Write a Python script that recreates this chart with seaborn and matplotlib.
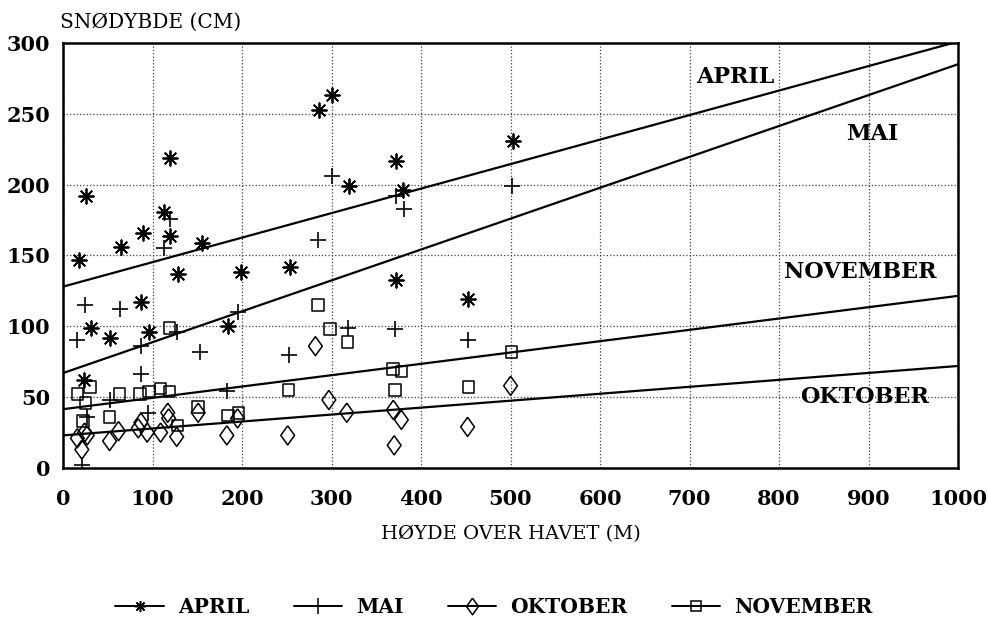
'''
Snødybde mot høyde over havet, april/mai/oktober/november
'''
import matplotlib
matplotlib.use('Agg')
import matplotlib.pyplot as plt
from matplotlib.lines import Line2D
import seaborn as sns

# Data
april_x = [18, 23, 26, 31, 53, 65, 87, 89, 96, 113, 119, 119, 128, 155, 184, 199,
           254, 286, 301, 319, 372, 372, 380, 453, 503]
april_y = [147, 62, 192, 99, 92, 156, 117, 166, 96, 181, 219, 164, 137, 159, 100, 138,
           142, 253, 263, 199, 217, 133, 196, 119, 231]

mai_x = [16, 21, 25, 27, 52, 64, 87, 87, 95, 113, 119, 127, 153, 183, 196,
         252, 285, 300, 318, 371, 372, 381, 453, 502]
mai_y = [90, 2, 115, 36, 48, 112, 86, 66, 39, 155, 176, 96, 82, 54, 110,
         80, 161, 206, 99, 98, 192, 183, 90, 199]

okt_x = [16, 21, 24, 27, 52, 62, 84, 87, 94, 109, 117, 118, 127, 151, 183, 195,
         251, 282, 297, 317, 369, 370, 378, 452, 500]
okt_y = [21, 13, 25, 23, 19, 26, 28, 32, 25, 25, 39, 35, 22, 39, 23, 35,
         23, 86, 48, 39, 41, 16, 34, 29, 58]

nov_x = [16, 22, 25, 30, 52, 63, 86, 96, 109, 119, 119, 128, 151, 184, 196,
         252, 285, 298, 318, 369, 371, 378, 453, 501]
nov_y = [52, 33, 46, 57, 36, 52, 52, 54, 56, 54, 99, 30, 43, 37, 39,
         55, 115, 98, 89, 70, 55, 68, 57, 82]

# regression lines (intercept, slope) as drawn in the figure
months = ['APRIL', 'MAI', 'OKTOBER', 'NOVEMBER']
intercepts = [128, 67, 23, 41.5]
slopes = [0.173, 0.218, 0.049, 0.080]

# line labels inside the plot
label_x = [707, 875, 823, 805]
label_y = [276, 236, 50, 138]

sns.set_style('white')
plt.rcParams['font.family'] = ['DejaVu Serif']
for key in ['text.color', 'axes.labelcolor', 'xtick.color', 'ytick.color']:
    plt.rcParams[key] = 'black'

# rhombus a bit wider than matplotlib's thin diamond
rhomb = [(0, 1), (0.72, 0), (0, -1), (-0.72, 0), (0, 1)]
aster = (8, 2, 0)

fig = plt.figure('snodybde', (9.88, 6.2), dpi=100)
ax = fig.add_axes([0.0638, 0.2452, 0.9059, 0.6855])

sns.scatterplot(x=april_x, y=april_y, marker=aster, s=110, color='black',
                linewidth=1.3, ax=ax)
sns.scatterplot(x=mai_x, y=mai_y, marker='+', s=120, color='black',
                linewidth=1.2, ax=ax)
sns.scatterplot(x=okt_x, y=okt_y, marker=rhomb, s=190, facecolor='none',
                edgecolor='black', linewidth=1.1, ax=ax)
sns.scatterplot(x=nov_x, y=nov_y, marker='s', s=70, facecolor='none',
                edgecolor='black', linewidth=1.1, ax=ax)

for b, m in zip(intercepts, slopes):
    ax.axline((0, b), slope=m, color='black', lw=1.6)

for name, tx, ty in zip(months, label_x, label_y):
    ax.text(tx, ty, name, fontsize=16, fontweight='bold', va='center', ha='left')

ax.set_xlim(0, 1000)
ax.set_ylim(0, 300)
ax.set_xticks(range(0, 1001, 100))
ax.set_yticks(range(0, 301, 50))
ax.grid(True, ls=':', lw=0.9, color='0.25')
for s in ax.spines.values():
    s.set_linewidth(1.8)
    s.set_color('black')
ax.tick_params(direction='in', length=6, width=1.8, labelsize=15)
ax.tick_params(axis='x', pad=15)
ax.tick_params(axis='y', pad=9)
for t in ax.get_xticklabels() + ax.get_yticklabels():
    t.set_fontweight('bold')

ax.set_xlabel('HØYDE OVER HAVET (M)', fontsize=14, labelpad=12)
ax.set_ylabel('')
fig.text(60 / 988, 1 - 22 / 620, 'SNØDYBDE (CM)', fontsize=14.5, va='center', ha='left')

handles = [
    Line2D([], [], color='black', lw=1.4, marker=aster, ms=8, mew=1.1),
    Line2D([], [], color='black', lw=1.4, marker='+', ms=11, mew=1.1),
    Line2D([], [], color='black', lw=1.4, marker=rhomb, ms=12, mfc='none', mew=1.1),
    Line2D([], [], color='black', lw=1.4, marker='s', ms=7, mfc='none', mew=1.1),
]
fig.legend(handles, months, loc='center', bbox_to_anchor=(0.5, 1 - 607 / 620),
           ncol=4, frameon=False, handlelength=2.4, handletextpad=0.7,
           columnspacing=2.2, prop={'size': 14.5, 'weight': 'bold'})

fig.savefig('out.png', dpi=100)
